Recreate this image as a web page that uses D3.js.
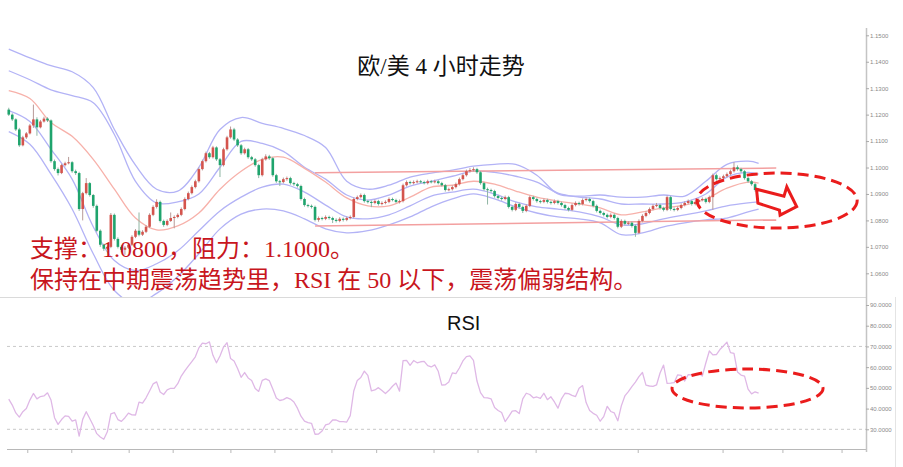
<!DOCTYPE html>
<html><head><meta charset="utf-8">
<script src="https://cdn.jsdelivr.net/npm/d3@7"></script>
<style>
html,body{margin:0;padding:0;background:#fff;}
svg{display:block;}
</style></head><body>
<svg id="chart" width="903" height="467"></svg>
<script>
const title = "欧/美 4 小时走势";
const noteLines = ["支撑：1.0800，阻力：1.1000。", "保持在中期震荡趋势里，RSI 在 50 以下，震荡偏弱结构。"];
const priceTicks = [1.06,1.07,1.08,1.09,1.10,1.11,1.12,1.13,1.14,1.15];
const rsiTicks = [30,40,50,60,70,80,90];
const rsiGuides = [30,70];
const totalSlots = 244;
const firstOpen = 1.1219;
const closes = [
1.1200,1.1182,1.1144,1.1084,1.1114,1.1129,1.1159,1.1182,1.1152,1.1174,
1.1185,1.1178,1.1024,1.0994,1.0979,1.1009,1.1016,1.1020,1.0986,1.0979,
1.0843,1.0903,1.0941,1.0896,1.0855,1.0761,1.0708,1.0693,1.0700,1.0821,
1.0730,1.0700,1.0689,1.0697,1.0708,1.0738,1.0761,1.0746,1.0757,1.0776,
1.0821,1.0851,1.0870,1.0798,1.0783,1.0798,1.0809,1.0813,1.0821,1.0843,
1.0881,1.0903,1.0926,1.0948,1.0994,1.1024,1.1054,1.1039,1.1076,1.1031,
1.1009,1.1069,1.1114,1.1144,1.1106,1.1084,1.1054,1.1069,1.1039,1.1031,
1.1009,1.0971,1.1031,1.1042,1.1035,1.0971,1.0948,1.0945,1.0956,1.0960,
1.0941,1.0937,1.0930,1.0881,1.0858,1.0855,1.0851,1.0802,1.0809,1.0806,
1.0813,1.0809,1.0802,1.0798,1.0806,1.0802,1.0809,1.0813,1.0881,1.0888,
1.0896,1.0873,1.0870,1.0866,1.0873,1.0862,1.0866,1.0870,1.0881,1.0877,
1.0870,1.0873,1.0933,1.0945,1.0941,1.0945,1.0948,1.0945,1.0941,1.0948,
1.0945,1.0948,1.0941,1.0933,1.0915,1.0918,1.0926,1.0937,1.0956,1.0971,
1.0986,1.0990,1.0994,1.0982,1.0941,1.0918,1.0915,1.0911,1.0892,1.0885,
1.0881,1.0888,1.0851,1.0840,1.0862,1.0851,1.0836,1.0855,1.0888,1.0881,
1.0873,1.0870,1.0877,1.0870,1.0866,1.0873,1.0866,1.0858,1.0847,1.0840,
1.0858,1.0866,1.0862,1.0877,1.0881,1.0873,1.0855,1.0836,1.0828,1.0821,
1.0813,1.0821,1.0809,1.0776,1.0798,1.0787,1.0791,1.0779,1.0753,1.0798,
1.0817,1.0828,1.0843,1.0855,1.0858,1.0847,1.0840,1.0888,1.0843,1.0840,
1.0847,1.0858,1.0866,1.0873,1.0862,1.0870,1.0877,1.0881,1.0870,1.0888,
1.0971,1.0956,1.0960,1.0967,1.0975,1.0986,1.1001,1.0994,1.0986,1.0960,
1.0948,1.0937,1.0915,1.0907];
const highs = [
1.1226,1.1205,1.1186,1.1150,1.1120,1.1134,1.1165,1.1238,1.1190,1.1180,
1.1192,1.1190,1.1182,1.1030,1.1000,1.1014,1.1022,1.1040,1.1024,1.0992,
1.0984,1.0908,1.0960,1.0945,1.0900,1.0860,1.0766,1.0712,1.0705,1.0828,
1.0826,1.0736,1.0706,1.0703,1.0714,1.0744,1.0767,1.0830,1.0763,1.0782,
1.0827,1.0857,1.0880,1.0875,1.0803,1.0804,1.0830,1.0819,1.0827,1.0849,
1.0887,1.0909,1.0932,1.0954,1.1000,1.1030,1.1060,1.1059,1.1082,1.1080,
1.1036,1.1075,1.1120,1.1155,1.1150,1.1111,1.1089,1.1075,1.1074,1.1044,
1.1036,1.1014,1.1037,1.1050,1.1048,1.1040,1.0976,1.0953,1.0962,1.0966,
1.0965,1.0946,1.0942,1.0935,1.0886,1.0863,1.0860,1.0856,1.0815,1.0814,
1.0819,1.0818,1.0814,1.0808,1.0812,1.0811,1.0815,1.0819,1.0887,1.0894,
1.0902,1.0901,1.0878,1.0875,1.0879,1.0878,1.0872,1.0876,1.0887,1.0886,
1.0882,1.0879,1.0939,1.0951,1.0950,1.0951,1.0954,1.0953,1.0950,1.0954,
1.0953,1.0954,1.0953,1.0946,1.0938,1.0924,1.0932,1.0943,1.0962,1.0977,
1.0992,1.0998,1.1001,1.0999,1.0987,1.0946,1.0924,1.0920,1.0916,1.0897,
1.0890,1.0894,1.0893,1.0856,1.0868,1.0867,1.0856,1.0861,1.0894,1.0893,
1.0886,1.0878,1.0883,1.0882,1.0875,1.0879,1.0878,1.0871,1.0863,1.0852,
1.0864,1.0872,1.0871,1.0883,1.0887,1.0886,1.0878,1.0860,1.0841,1.0833,
1.0826,1.0827,1.0826,1.0814,1.0804,1.0803,1.0797,1.0796,1.0784,1.0804,
1.0823,1.0834,1.0849,1.0861,1.0866,1.0863,1.0852,1.0894,1.0893,1.0849,
1.0853,1.0864,1.0872,1.0879,1.0878,1.0876,1.0883,1.0887,1.0886,1.0894,
1.0977,1.0977,1.0966,1.0973,1.0981,1.0992,1.1020,1.1008,1.0999,1.0990,
1.0965,1.0953,1.0942,1.0920];
const lows = [
1.1195,1.1176,1.1138,1.1078,1.1080,1.1108,1.1125,1.1150,1.1120,1.1148,
1.1170,1.1172,1.1018,1.0988,1.0970,1.0975,1.1004,1.1012,1.0980,1.0972,
1.0836,1.0800,1.0898,1.0890,1.0848,1.0755,1.0700,1.0685,1.0688,1.0695,
1.0724,1.0694,1.0680,1.0670,1.0692,1.0703,1.0733,1.0740,1.0741,1.0752,
1.0771,1.0816,1.0845,1.0792,1.0776,1.0778,1.0794,1.0770,1.0808,1.0816,
1.0838,1.0876,1.0898,1.0921,1.0943,1.0989,1.1019,1.1033,1.1034,1.1025,
1.0964,1.1004,1.1064,1.1109,1.1100,1.1078,1.1048,1.1049,1.1033,1.1025,
1.1003,1.0960,1.0966,1.1026,1.1029,1.0965,1.0942,1.0930,1.0940,1.0950,
1.0935,1.0931,1.0924,1.0875,1.0852,1.0849,1.0845,1.0796,1.0795,1.0800,
1.0801,1.0803,1.0790,1.0792,1.0793,1.0796,1.0797,1.0804,1.0808,1.0876,
1.0883,1.0867,1.0864,1.0850,1.0861,1.0856,1.0857,1.0861,1.0865,1.0872,
1.0865,1.0864,1.0868,1.0928,1.0936,1.0936,1.0940,1.0940,1.0936,1.0936,
1.0940,1.0940,1.0936,1.0928,1.0909,1.0910,1.0913,1.0921,1.0932,1.0951,
1.0966,1.0981,1.0985,1.0976,1.0935,1.0912,1.0860,1.0905,1.0886,1.0879,
1.0875,1.0876,1.0845,1.0834,1.0835,1.0845,1.0828,1.0831,1.0850,1.0875,
1.0867,1.0864,1.0865,1.0864,1.0860,1.0861,1.0860,1.0852,1.0841,1.0834,
1.0835,1.0853,1.0856,1.0857,1.0872,1.0867,1.0849,1.0830,1.0822,1.0815,
1.0807,1.0808,1.0803,1.0770,1.0771,1.0781,1.0782,1.0773,1.0738,1.0748,
1.0793,1.0812,1.0823,1.0838,1.0850,1.0841,1.0834,1.0835,1.0837,1.0834,
1.0835,1.0842,1.0853,1.0861,1.0856,1.0857,1.0865,1.0872,1.0864,1.0865,
1.0840,1.0950,1.0951,1.0955,1.0962,1.0970,1.0981,1.0988,1.0980,1.0954,
1.0942,1.0931,1.0909,1.0901];
const rsi = [
44.6,41.7,37.9,35.9,38.5,40.0,44.1,47.3,44.7,45.8,
46.1,47.6,44.1,35.6,32.4,34.7,36.5,36.2,33.9,34.5,
26.7,34.8,38.5,35.2,31.8,27.9,26.3,25.2,28.8,37.5,
38.1,34.7,33.8,35.6,37.8,37.0,36.9,43.1,42.6,45.2,
48.5,51.9,52.9,48.0,46.8,49.0,49.8,49.8,52.0,55.7,
58.2,60.5,62.7,65.0,69.3,71.6,71.3,72.2,65.7,62.1,
65.4,69.7,71.8,64.2,63.0,59.3,55.1,57.4,54.8,53.6,
49.7,48.3,53.6,54.3,53.5,49.5,45.1,43.9,44.3,45.3,
44.6,43.2,40.2,36.3,33.9,33.2,32.9,27.6,27.7,29.2,
32.1,32.6,34.5,34.5,33.7,33.7,33.5,36.6,48.5,53.6,
55.0,58.1,56.0,48.6,49.0,50.1,48.7,47.3,48.8,50.8,
52.3,48.4,63.1,63.3,60.9,63.2,62.1,62.6,62.8,60.7,
60.1,61.1,58.0,51.3,51.5,52.8,57.2,56.9,59.6,63.0,
65.1,65.4,63.3,53.3,47.7,45.3,45.2,44.7,40.5,39.1,
38.1,33.7,36.1,38.8,39.0,37.6,44.7,47.4,46.8,45.2,
45.6,44.9,47.4,44.3,45.7,43.2,40.2,44.7,47.4,47.2,
46.4,45.8,49.8,51.1,42.9,39.1,37.7,36.8,33.9,36.1,
41.1,38.6,37.9,34.1,41.3,46.1,48.2,50.6,52.8,55.4,
57.4,51.3,50.9,50.7,51.4,57.2,61.0,52.2,52.3,52.5,
56.3,56.0,53.3,56.4,56.3,56.2,57.0,55.7,62.0,67.8,
65.9,66.1,68.5,70.2,72.1,67.0,66.6,57.7,56.2,55.7,
49.4,47.1,48.1,47.5];
const bandIdx = [0,6,12,18,24,30,36,42,48,54,60,66,72,78,84,90,96,102,108,114,120,126,132,138,144,150,156,162,168,174,180,186,192,198,204,210,213];
const bbUp2 = [1.1448,1.1415,1.1385,1.1362,1.1302,1.1144,1.1009,1.0918,1.0911,1.1001,1.1144,1.1189,1.1167,1.1148,1.1121,1.1076,1.0948,1.0918,1.0933,1.0964,1.0979,1.0990,1.1005,1.1012,1.1012,1.0971,1.0900,1.0892,1.0896,1.0888,1.0888,1.0896,1.0892,1.0948,1.1012,1.1024,1.1016];
const bbUp1 = [1.1366,1.1332,1.1294,1.1272,1.1245,1.1125,1.0948,1.0866,1.0870,1.0900,1.1001,1.1099,1.1091,1.1061,1.1001,1.0956,1.0896,1.0877,1.0896,1.0930,1.0948,1.0967,1.0986,1.0982,1.0967,1.0945,1.0903,1.0888,1.0881,1.0862,1.0862,1.0862,1.0870,1.0900,1.0964,1.0982,1.0975];
const bbMid = [1.1291,1.1261,1.1170,1.1118,1.1031,1.0918,1.0809,1.0764,1.0779,1.0828,1.0918,1.0986,1.1031,1.1039,1.0997,1.0945,1.0885,1.0855,1.0855,1.0888,1.0926,1.0933,1.0948,1.0937,1.0911,1.0888,1.0873,1.0862,1.0847,1.0821,1.0832,1.0847,1.0858,1.0881,1.0922,1.0945,1.0941];
const bbLo1 = [1.1215,1.1174,1.1069,1.0956,1.0776,1.0648,1.0610,1.0636,1.0685,1.0761,1.0836,1.0888,1.0926,1.0937,1.0907,1.0858,1.0813,1.0806,1.0821,1.0855,1.0892,1.0907,1.0918,1.0900,1.0870,1.0851,1.0843,1.0832,1.0813,1.0783,1.0787,1.0806,1.0821,1.0836,1.0855,1.0866,1.0870];
const bbLo2 = [1.1136,1.1088,1.0975,1.0843,1.0674,1.0535,1.0486,1.0524,1.0588,1.0674,1.0768,1.0824,1.0843,1.0836,1.0806,1.0768,1.0753,1.0761,1.0783,1.0813,1.0851,1.0881,1.0900,1.0881,1.0851,1.0828,1.0813,1.0806,1.0791,1.0746,1.0753,1.0776,1.0791,1.0802,1.0809,1.0832,1.0843];
const timeTicks = [5.4,17.9,34.2,46.7,63.1,75.6,91.8,104.5,120.8,133.3,149.8,178.8,202.9,219.9,236.7];
const resistance = [[87,1.0980],[218,1.0998]];
const support = [[87,1.0779],[218,1.0802]];
const priceEllipse = {i0:195.5, i1:241, p0:1.0979, p1:1.0771};
const arrowShape = [[212.4,1.0918],[220.2,1.0892],[221.0,1.0927],[223.8,1.0852],[219.1,1.0820],[218.9,1.0839],[212.8,1.0865]];
const rsiEllipse = {i0:188.4, i1:231.3, r0:59.1, r1:40.3};

// ---------- drawing ----------
const svg = d3.select("#chart");
const L = 7, R = 866;
const x = d3.scaleLinear().domain([-0.5, totalSlots - 0.5]).range([L, R]);
const y = d3.scaleLinear().domain([1.06, 1.15]).range([273.3, 35.3]);
const yr = d3.scaleLinear().domain([30, 90]).range([429.3, 305]);
const step = x(1) - x(0);

const defs = svg.append("defs");
defs.append("clipPath").attr("id","cp1").append("rect").attr("x",L).attr("y",28).attr("width",R-L).attr("height",297-28);
defs.append("clipPath").attr("id","cp2").append("rect").attr("x",L).attr("y",298).attr("width",R-L).attr("height",449-298);

// frame / axes
svg.append("line").attr("x1",0).attr("x2",R).attr("y1",297.5).attr("y2",297.5).attr("stroke","#dadada");
svg.append("line").attr("x1",L).attr("x2",R).attr("y1",449.5).attr("y2",449.5).attr("stroke","#b8b8b8");
svg.append("line").attr("x1",R+0.5).attr("x2",R+0.5).attr("y1",28).attr("y2",452).attr("stroke","#c4c4c4").attr("stroke-width",1.5);
svg.append("line").attr("x1",895.5).attr("x2",895.5).attr("y1",297).attr("y2",467).attr("stroke","#e4e4e4");

const gT = svg.append("g");
gT.selectAll("line").data(timeTicks).join("line")
  .attr("x1",d=>x(d)).attr("x2",d=>x(d)).attr("y1",449.5).attr("y2",453)
  .attr("stroke","#b8b8b8");

const pAxis = svg.append("g").attr("transform",`translate(${R},0)`)
  .call(d3.axisRight(y).tickValues(priceTicks).tickFormat(d3.format(".4f")).tickSize(3).tickPadding(1));
const rAxis = svg.append("g").attr("transform",`translate(${R},0)`)
  .call(d3.axisRight(yr).tickValues(rsiTicks).tickFormat(d3.format(".4f")).tickSize(3).tickPadding(1));
[pAxis, rAxis].forEach(a=>{
  a.select(".domain").remove();
  a.selectAll("line").attr("stroke","#aaa");
  a.selectAll("text").attr("fill","#8a8a8a").attr("font-size",6).attr("font-family","Liberation Sans, Arial, sans-serif");
});

// RSI guide lines
svg.append("g").selectAll("line").data(rsiGuides).join("line")
  .attr("x1",L).attr("x2",R).attr("y1",d=>yr(d)).attr("y2",d=>yr(d))
  .attr("stroke","#c9c9c9").attr("stroke-dasharray","3,3");

// price panel
const gp = svg.append("g").attr("clip-path","url(#cp1)");
const bandLine = d3.line().x(d=>x(d[0])).y(d=>y(d[1])).curve(d3.curveCatmullRom.alpha(0.5));
const bands = [
  {v:bbUp2, c:"#b3b3f6"}, {v:bbUp1, c:"#b3b3f6"}, {v:bbLo1, c:"#b3b3f6"}, {v:bbLo2, c:"#b3b3f6"},
  {v:bbMid, c:"#f7b1aa"}
];
bands.forEach(b=>{
  gp.append("path").datum(bandIdx.map((k,j)=>[k,b.v[j]]))
    .attr("d",bandLine).attr("fill","none").attr("stroke",b.c).attr("stroke-width",1.3);
});
[resistance, support].forEach(s=>{
  gp.append("line").attr("x1",x(s[0][0])).attr("y1",y(s[0][1])).attr("x2",x(s[1][0])).attr("y2",y(s[1][1]))
    .attr("stroke","#f3a0a0").attr("stroke-width",1.5);
});

const candles = closes.map((c,i)=>({i, o: i ? closes[i-1] : firstOpen, c, h: highs[i], l: lows[i]}));
const upC = "#d4544d", dnC = "#1fa46d";
gp.append("g").selectAll("line").data(candles).join("line")
  .attr("x1",d=>x(d.i)).attr("x2",d=>x(d.i)).attr("y1",d=>y(d.h)).attr("y2",d=>y(d.l))
  .attr("stroke",d=>d.c>=d.o ? "#b89a98" : "#8fb5a3").attr("stroke-width",1);
const bw = step*0.74;
gp.append("g").selectAll("rect").data(candles).join("rect")
  .attr("x",d=>x(d.i)-bw/2).attr("width",bw)
  .attr("y",d=>y(Math.max(d.o,d.c)))
  .attr("height",d=>Math.max(1,Math.abs(y(d.o)-y(d.c))))
  .attr("fill",d=>d.c>=d.o ? upC : dnC);

// RSI panel
const gr = svg.append("g").attr("clip-path","url(#cp2)");
gr.append("path").datum(rsi)
  .attr("d", d3.line().x((d,i)=>x(i)).y(d=>yr(d)))
  .attr("fill","none").attr("stroke","#dfb8e6").attr("stroke-width",1.3).attr("stroke-linejoin","round");

// titles and notes
svg.append("text").attr("x",441).attr("y",74).attr("text-anchor","middle")
  .attr("font-family","Liberation Serif, 'Noto Sans CJK SC', serif").attr("font-size",23).attr("fill","#111")
  .text(title);
svg.append("text").attr("x",447).attr("y",330)
  .attr("font-family","Liberation Sans, Arial, sans-serif").attr("font-size",20).attr("fill","#111")
  .text("RSI");
svg.append("g").selectAll("text").data(noteLines).join("text")
  .attr("x",30).attr("y",(d,i)=>257 + i*31)
  .attr("font-family","Liberation Serif, 'Noto Sans CJK SC', serif").attr("font-size",24).attr("fill","#c8161d")
  .text(d=>d);

// annotations
const red = "#ea1c1c";
function ell(g, i0, i1, ya, yb){
  g.append("ellipse")
    .attr("cx",(x(i0)+x(i1))/2).attr("cy",(ya+yb)/2)
    .attr("rx",Math.abs(x(i1)-x(i0))/2).attr("ry",Math.abs(yb-ya)/2)
    .attr("fill","none").attr("stroke",red).attr("stroke-width",3).attr("stroke-dasharray","11,6");
}
ell(svg, priceEllipse.i0, priceEllipse.i1, y(priceEllipse.p0), y(priceEllipse.p1));
svg.append("polygon")
  .attr("points", arrowShape.map(p=>[x(p[0]), y(p[1])].join(",")).join(" "))
  .attr("fill","#fff").attr("stroke",red).attr("stroke-width",3).attr("stroke-linejoin","miter");
ell(svg, rsiEllipse.i0, rsiEllipse.i1, yr(rsiEllipse.r0), yr(rsiEllipse.r1));
</script>
</body></html>
